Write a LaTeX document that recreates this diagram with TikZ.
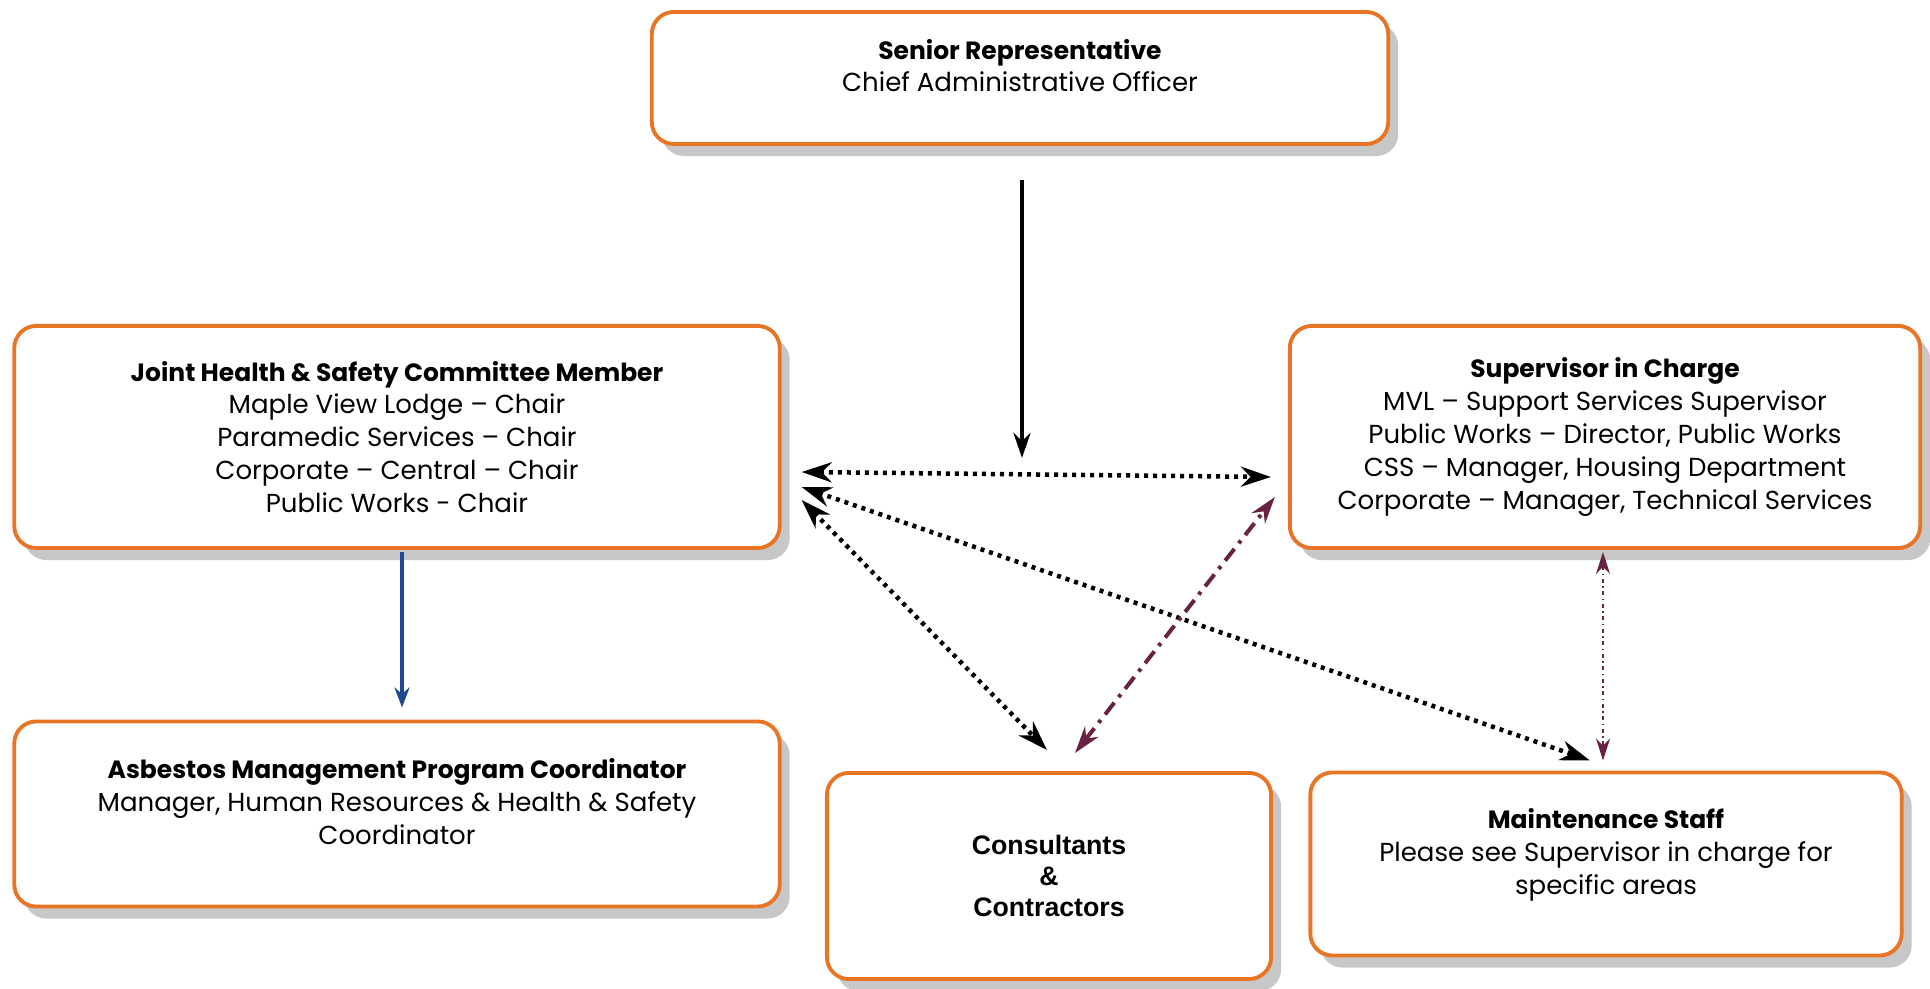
\documentclass[tikz,border=0pt]{standalone}
\usepackage{fontspec}
\setmainfont{Poppins}
\newfontfamily\arialfont{Liberation Sans}
\usetikzlibrary{arrows.meta,shadows}

\definecolor{boxorange}{RGB}{232,117,38}
\definecolor{linkmaroon}{RGB}{104,34,66}
\definecolor{linkblue}{RGB}{31,73,145}
\newcommand{\boxhead}[1]{{\fontsize{7.1}{9.36}\selectfont\bfseries #1}}

\begin{document}
\begin{tikzpicture}[x=0.01cm,y=-0.01cm,
    box/.style={draw=boxorange, line width=1.1pt, rounded corners=0.22cm, fill=white,
        align=center, font=\fontsize{7.4}{9.36}\selectfont, inner sep=0pt,
        drop shadow={shadow xshift=0.1cm, shadow yshift=-0.12cm, fill=black!22, opacity=1}},
    lifted/.style={text depth=0.25cm},
    dotlink/.style={line width=0.045cm, dash pattern=on 0.04cm off 0.05cm,
        {Stealth[length=0.3cm, width=0.2cm]}-{Stealth[length=0.3cm, width=0.2cm]}},
    dashdotlink/.style={linkmaroon, line width=0.04cm, dash pattern=on 0.15cm off 0.07cm on 0.035cm off 0.07cm,
        {Stealth[length=0.27cm, width=0.17cm]}-{Stealth[length=0.27cm, width=0.17cm]}},
    thinlink/.style={linkmaroon, line width=0.018cm, dash pattern=on 0.04cm off 0.035cm on 0.015cm off 0.035cm,
        {Stealth[length=0.22cm, width=0.14cm]}-{Stealth[length=0.22cm, width=0.14cm]}}]

    \useasboundingbox (0,0) rectangle (1930,989);

    % --- Caixas ---
    \node[box, lifted, minimum width=7.36cm, minimum height=1.32cm] (senior) at (1020,78)
        {\boxhead{Senior Representative}\\Chief Administrative Officer};

    \node[box, minimum width=7.65cm, minimum height=2.22cm] (joint) at (397,437)
        {\boxhead{Joint Health \& Safety Committee Member}\\Maple View Lodge -- Chair\\
         Paramedic Services -- Chair\\Corporate -- Central -- Chair\\Public Works - Chair};

    \node[box, minimum width=6.3cm, minimum height=2.22cm] (super) at (1605,437)
        {\boxhead{Supervisor in Charge}\\MVL -- Support Services Supervisor\\
         Public Works -- Director, Public Works\\CSS -- Manager, Housing Department\\
         Corporate -- Manager, Technical Services};

    \node[box, lifted, minimum width=7.65cm, minimum height=1.85cm] (asbestos) at (397,814)
        {\boxhead{Asbestos Management Program Coordinator}\\
         Manager, Human Resources \& Health \& Safety\\Coordinator};

    \node[box, minimum width=4.44cm, minimum height=2.06cm, font=\arialfont\fontsize{7.6}{8.7}\selectfont\bfseries] (consult) at (1049,876)
        {Consultants\\\&\\Contractors};

    \node[box, lifted, minimum width=5.91cm, minimum height=1.83cm] (maint) at (1606,864)
        {\boxhead{Maintenance Staff}\\Please see Supervisor in charge for\\specific areas};

    % --- Ligações ---
    \coordinate (hub) at (1022,458);
    \draw[line width=0.045cm, -{Stealth[length=0.25cm, width=0.17cm]}] ([shift={(2,34)}]senior.south) -- (hub);

    \draw[linkblue, line width=0.04cm, -{Stealth[length=0.2cm, width=0.15cm]}] ([shift={(5,2)}]joint.south) -- ([shift={(5,-12)}]asbestos.north);

    \draw[dotlink] ([shift={(20,35)}]joint.east) -- ([shift={(-17,40)}]super.west);
    \draw[dotlink] ([shift={(20,50)}]joint.east) -- ([shift={(-16,-10)}]maint.north);
    \draw[dotlink] ([shift={(20,63)}]joint.east) -- ([shift={(-2,-21)}]consult.north);

    \draw[dashdotlink] ([shift={(26,-18)}]consult.north) -- ([shift={(-13,60)}]super.west);

    \draw[thinlink] ([shift={(-2,2)}]super.south) -- ([shift={(-3,-10)}]maint.north);

\end{tikzpicture}
\end{document}
